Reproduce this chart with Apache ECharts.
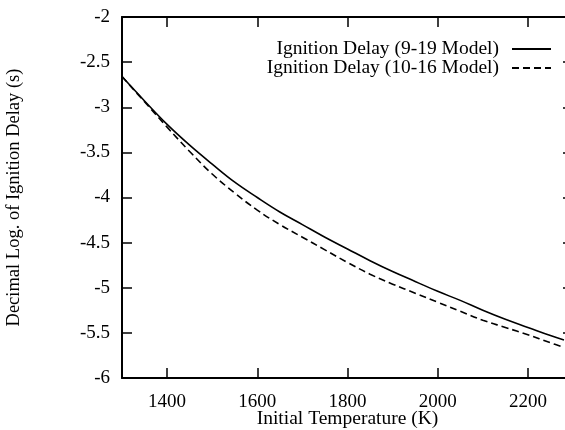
<!DOCTYPE html>
<html>
<head>
<meta charset="utf-8">
<script src="https://cdn.jsdelivr.net/npm/echarts@6/dist/echarts.min.js"></script>
<style>html,body{margin:0;padding:0;background:#fff}#c{width:565px;height:430px}</style>
</head>
<body>
<div id="c"></div>
<script>
var temps = [1300,1350,1400,1450,1500,1550,1600,1650,1700,1750,1800,1850,1900,1950,2000,2050,2100,2150,2200,2250,2280];
var delay919 = [-2.66,-2.93,-3.19,-3.42,-3.63,-3.83,-4.00,-4.16,-4.30,-4.44,-4.57,-4.70,-4.82,-4.93,-5.04,-5.14,-5.25,-5.35,-5.44,-5.53,-5.58];
var delay1016 = [-2.66,-2.94,-3.22,-3.49,-3.74,-3.95,-4.14,-4.30,-4.44,-4.58,-4.72,-4.85,-4.96,-5.06,-5.16,-5.26,-5.36,-5.44,-5.52,-5.61,-5.66];
var xTicks = [1400,1600,1800,2000,2200];
var seriesNames = ['Ignition Delay (9-19 Model)','Ignition Delay (10-16 Model)'];

var FONT = 'Liberation Serif';
function pairs(xs, ys){ return xs.map(function(x,i){ return [x, ys[i]]; }); }

var chart = echarts.init(document.getElementById('c'), null, {renderer:'canvas'});
var axisLine = {show:true, lineStyle:{color:'#000', width:2}};
var legendBase = {
  right:13, align:'right', orient:'vertical',
  itemWidth:39, itemHeight:14, padding:0,
  itemStyle:{opacity:0},
  textStyle:{color:'#000', fontFamily:FONT, fontSize:19.5, padding:[0,8,0,0]}
};
chart.setOption({
  animation:false,
  backgroundColor:'#fff',
  grid:{left:122, top:17, right:-8, bottom:52, containLabel:false, outerBoundsMode:'none'},
  xAxis:[{
    type:'value', min:1300, max:2300, position:'bottom',
    axisLine:axisLine,
    axisTick:{show:true, inside:true, length:10, customValues:xTicks, lineStyle:{color:'#000', width:1.5}},
    axisLabel:{customValues:xTicks, color:'#000', fontFamily:FONT, fontSize:19, margin:15,
      formatter:function(v){ return String(v); }},
    splitLine:{show:false},
    name:'Initial Temperature (K)', nameLocation:'middle', nameGap:31, nameMoveOverlap:false,
    nameTextStyle:{color:'#000', fontFamily:FONT, fontSize:19.5}
  },{
    type:'value', min:1300, max:2300, position:'top',
    axisLine:axisLine,
    axisTick:{show:true, inside:true, length:10, customValues:xTicks, lineStyle:{color:'#000', width:1.5}},
    axisLabel:{show:false}, splitLine:{show:false}
  }],
  yAxis:[{
    type:'value', min:-6, max:-2, interval:0.5, position:'left',
    axisLine:axisLine,
    axisTick:{show:true, inside:true, length:10, lineStyle:{color:'#000', width:1.5}},
    axisLabel:{color:'#000', fontFamily:FONT, fontSize:19, margin:12},
    splitLine:{show:false},
    name:'Decimal Log. of Ignition Delay (s)', nameLocation:'middle', nameGap:98, nameRotate:90, nameMoveOverlap:false,
    nameTextStyle:{color:'#000', fontFamily:FONT, fontSize:18.5}
  },{
    type:'value', min:-6, max:-2, interval:0.5, position:'right',
    axisLine:axisLine,
    axisTick:{show:true, inside:true, length:10, lineStyle:{color:'#000', width:1.5}},
    axisLabel:{show:false}, splitLine:{show:false}
  }],
  legend:[
    Object.assign({data:[seriesNames[0]], top:39}, legendBase),
    Object.assign({data:[seriesNames[1]], top:58}, legendBase)
  ],
  series:[{
    name:seriesNames[0], type:'line', xAxisIndex:0, yAxisIndex:0,
    data:pairs(temps, delay919), smooth:0.4, symbol:'none',
    lineStyle:{color:'#000', width:1.6, type:'solid'}, itemStyle:{color:'#000'}
  },{
    name:seriesNames[1], type:'line', xAxisIndex:0, yAxisIndex:0,
    data:pairs(temps, delay1016), smooth:0.4, symbol:'none',
    lineStyle:{color:'#000', width:1.6, type:[7,4]}, itemStyle:{color:'#000'}
  }]
});
</script>
</body>
</html>
